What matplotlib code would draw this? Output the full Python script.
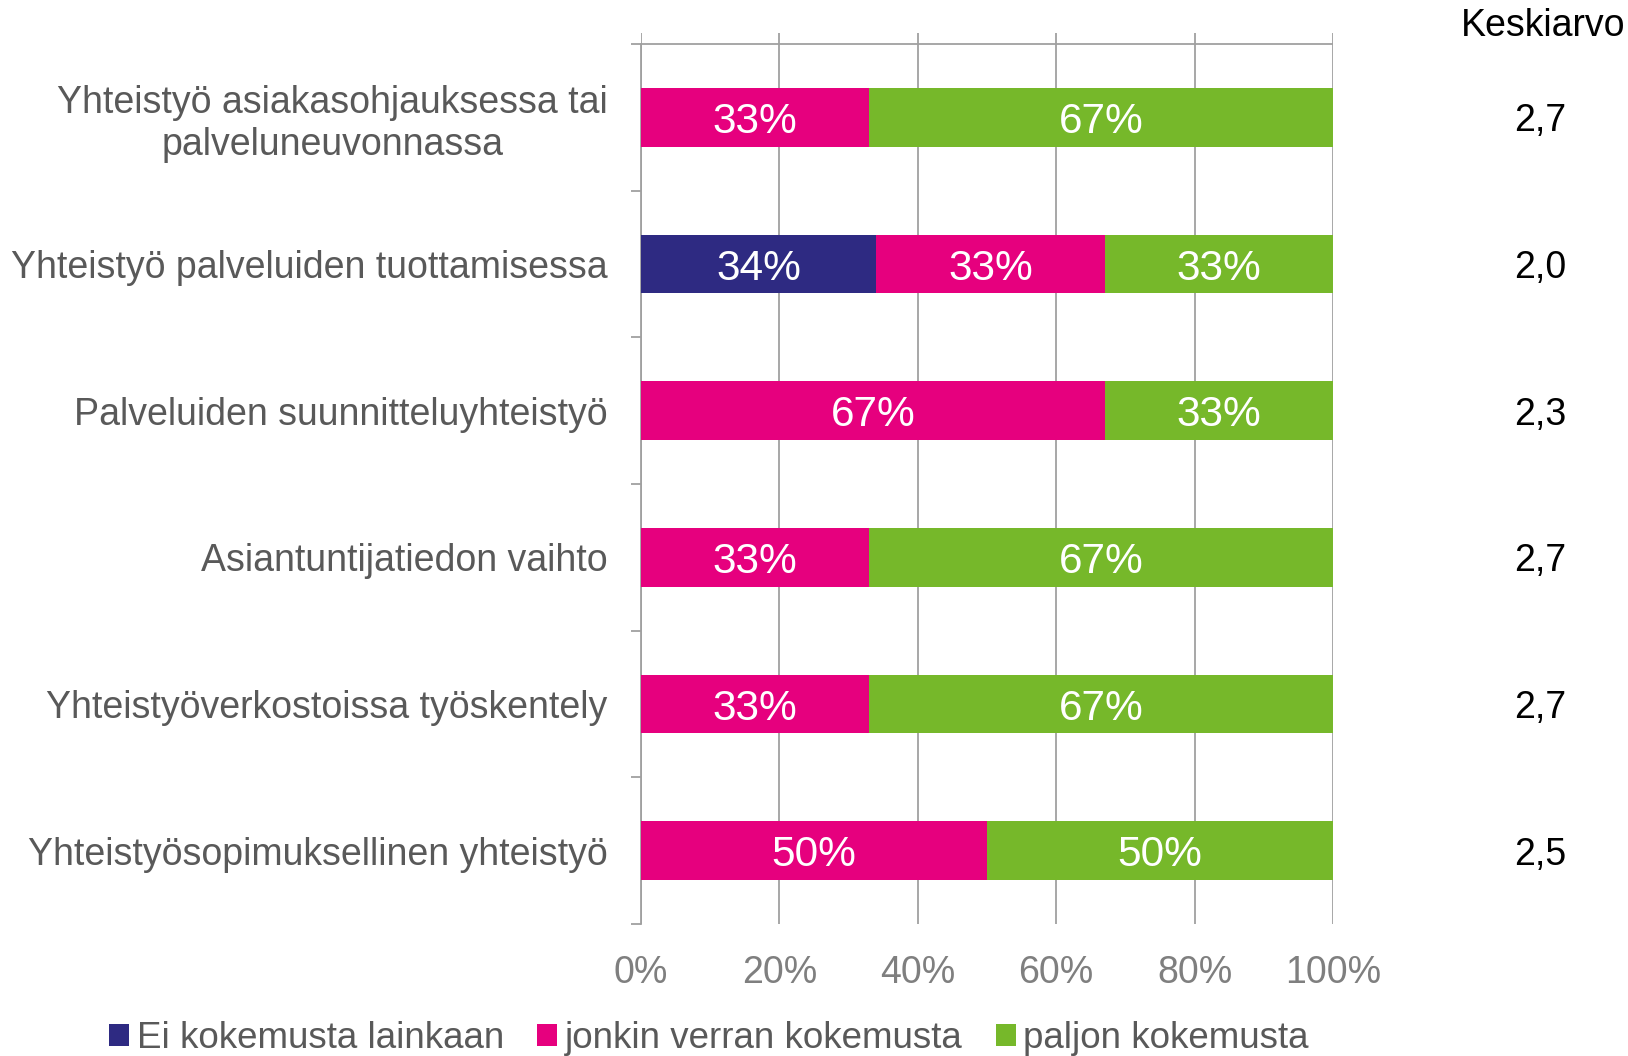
import numpy as np
import matplotlib
matplotlib.use("Agg")
import matplotlib.pyplot as plt
import matplotlib.transforms as mtransforms

plt.rcParams["font.family"] = ["Liberation Sans", "DejaVu Sans"]

# Data
categories = [
    "Yhteistyö asiakasohjauksessa tai\npalveluneuvonnassa",
    "Yhteistyö palveluiden tuottamisessa",
    "Palveluiden suunnitteluyhteistyö",
    "Asiantuntijatiedon vaihto",
    "Yhteistyöverkostoissa työskentely",
    "Yhteistyösopimuksellinen yhteistyö",
]
ei_kokemusta = [0, 34, 0, 0, 0, 0]
jonkin_verran = [33, 33, 67, 33, 33, 50]
paljon = [67, 33, 33, 67, 67, 50]
keskiarvo = ["2,7", "2,0", "2,3", "2,7", "2,7", "2,5"]

series_names = ["Ei kokemusta lainkaan", "jonkin verran kokemusta", "paljon kokemusta"]
colors = ["#2E2A82", "#E6007E", "#76B82A"]
xticks = [0, 20, 40, 60, 80, 100]


def main():
    fig = plt.figure(figsize=(16.28, 10.56), dpi=100)
    ax = fig.add_axes([0.3937, 0.125, 0.4251, 0.84375])

    y = np.arange(len(categories))
    left = np.zeros(len(categories))
    for vals, name, col in zip([ei_kokemusta, jonkin_verran, paljon], series_names, colors):
        vals = np.array(vals, dtype=float)
        bars = ax.barh(y, vals, left=left, height=0.4, color=col, label=name, zorder=3)
        for b, v in zip(bars, vals):
            if v > 0:
                ax.text(b.get_x() + b.get_width() / 2, b.get_y() + b.get_height() / 2,
                        f"{int(v)}%", ha="center", va="center_baseline", color="white",
                        fontsize=30.5, zorder=4)
        left += vals

    # axes look
    ax.set_xlim(0, 100)
    ax.set_ylim(len(categories) - 0.5, -0.575)
    ax.set_xticks(xticks)
    ax.set_xticklabels([f"{t}%" for t in xticks])
    ax.set_yticks(y)
    ax.set_yticklabels(categories)
    ax.set_yticks(np.arange(-0.5, len(categories)), minor=True)

    for side in ["top", "right", "bottom"]:
        ax.spines[side].set_visible(False)
    ax.spines["left"].set_color("#a0a0a0")
    ax.spines["left"].set_linewidth(1.3)
    ax.spines["left"].set_bounds(-0.5, len(categories) - 0.5)
    ax.axhline(-0.5, color="#a0a0a0", lw=1.3, zorder=2)

    ax.grid(axis="x", color="#a0a0a0", lw=1.3, zorder=1)
    ax.tick_params(axis="x", length=0, pad=22.5, labelsize=27, labelcolor="#7f7f7f")
    ax.tick_params(axis="y", which="major", length=0, pad=24, labelsize=27,
                   labelcolor="#595959")
    ax.tick_params(axis="y", which="minor", length=7, width=1.3, color="#a0a0a0")
    for lbl in ax.get_yticklabels():
        lbl.set_multialignment("center")

    # Keskiarvo column
    trans = mtransforms.blended_transform_factory(fig.transFigure, ax.transData)
    fig.text(0.948, 0.975, "Keskiarvo", ha="center", va="center", fontsize=27, color="black")
    for yi, k in zip(y, keskiarvo):
        ax.text(0.946, yi, k, transform=trans, ha="center", va="center_baseline",
                fontsize=27, color="black")

    leg = fig.legend(loc="center", bbox_to_anchor=(0.4355, 0.0165), ncol=3, frameon=False,
                     fontsize=26.5, handlelength=0.55, handleheight=0.55, handletextpad=0.2,
                     columnspacing=0.9)
    for t in leg.get_texts():
        t.set_color("#595959")

    fig.savefig("out.png", dpi=100)
    plt.close(fig)


if __name__ == "__main__":
    main()
